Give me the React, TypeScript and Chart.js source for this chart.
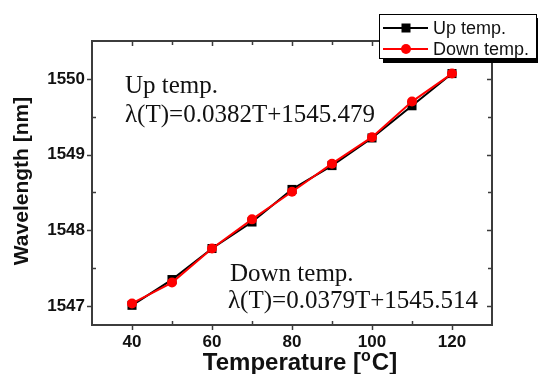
import React, { useEffect, useRef } from "react";
import { Chart, registerables } from "chart.js";

Chart.register(...registerables);

const temperatures = [40, 50, 60, 70, 80, 90, 100, 110, 120];
const upTemp = [1547.01, 1547.35, 1547.76, 1548.11, 1548.54, 1548.855, 1549.22, 1549.645, 1550.07];
const downTemp = [1547.035, 1547.31, 1547.76, 1548.145, 1548.51, 1548.88, 1549.23, 1549.7, 1550.07];
const xTickLabels = [40, 60, 80, 100, 120];
const yTickLabels = [1547, 1548, 1549, 1550];
const xMinorTicks = [40, 50, 60, 70, 80, 90, 100, 110, 120];
const yMinorTicks = [1547, 1547.5, 1548, 1548.5, 1549, 1549.5, 1550];
const seriesNames = ["Up temp.", "Down temp."];
const upEquation = ["Up temp.", "λ(T)=0.0382T+1545.479"];
const downEquation = ["Down temp.", "λ(T)=0.0379T+1545.514"];

const AXIS_COLOR = "#3c3c3c";

const decorPlugin = {
  id: "decor",
  afterDatasetsDraw(chart: any) {
    const ctx = chart.ctx;
    const { left, right, top, bottom } = chart.chartArea;
    const xs = chart.scales.x;
    const ys = chart.scales.y;
    ctx.save();
    // frame
    ctx.strokeStyle = AXIS_COLOR;
    ctx.lineWidth = 2;
    ctx.strokeRect(left, top, right - left, bottom - top);
    ctx.lineWidth = 1.5;
    ctx.beginPath();
    for (const v of xMinorTicks) {
      const px = Math.round(xs.getPixelForValue(v)) + 0.5;
      const major = xTickLabels.includes(v);
      if (major) {
        ctx.moveTo(px, bottom);
        ctx.lineTo(px, bottom + 5);
      } else {
        ctx.moveTo(px, bottom);
        ctx.lineTo(px, bottom - 4);
      }
      ctx.moveTo(px, top);
      ctx.lineTo(px, top + (major ? 5 : 4));
    }
    for (const v of yMinorTicks) {
      const py = Math.round(ys.getPixelForValue(v)) + 0.5;
      const major = yTickLabels.includes(v);
      if (major) {
        ctx.moveTo(left, py);
        ctx.lineTo(left - 5, py);
      } else {
        ctx.moveTo(left, py);
        ctx.lineTo(left + 4, py);
      }
      ctx.moveTo(right, py);
      ctx.lineTo(right - (major ? 5 : 4), py);
    }
    ctx.stroke();

    // annotations
    ctx.fillStyle = "#111";
    ctx.font = '25px "Liberation Serif"';
    ctx.textAlign = "left";
    ctx.textBaseline = "alphabetic";
    ctx.fillText(upEquation[0], 125, 93);
    ctx.fillText(upEquation[1], 125, 122);
    ctx.fillText(downEquation[0], 230, 281);
    ctx.fillText(downEquation[1], 228, 308);

    // axis titles
    ctx.fillStyle = "#111";
    ctx.font = 'bold 21px "Liberation Sans"';
    ctx.save();
    ctx.translate(22, 181);
    ctx.rotate(-Math.PI / 2);
    ctx.textAlign = "center";
    ctx.textBaseline = "middle";
    ctx.fillText("Wavelength [nm]", 0, 0);
    ctx.restore();

    const bigFont = 'bold 24px "Liberation Sans"';
    const supFont = 'bold 16px "Liberation Sans"';
    ctx.font = bigFont;
    const p1 = "Temperature [";
    const p3 = "C]";
    const w1 = ctx.measureText(p1).width;
    const w3 = ctx.measureText(p3).width;
    ctx.font = supFont;
    const w2 = ctx.measureText("o").width + 1;
    const total = w1 + w2 + w3;
    const x0 = 300 - total / 2;
    const base = 370;
    ctx.textAlign = "left";
    ctx.textBaseline = "alphabetic";
    ctx.font = bigFont;
    ctx.fillText(p1, x0, base);
    ctx.font = supFont;
    ctx.fillText("o", x0 + w1, base - 9);
    ctx.font = bigFont;
    ctx.fillText(p3, x0 + w1 + w2, base);

    // legend
    const lx = 379, ly = 14, lw = 158, lh = 45;
    ctx.fillStyle = "#000";
    ctx.fillRect(lx + 4, ly + 4, lw, lh);
    ctx.fillStyle = "#fff";
    ctx.fillRect(lx, ly, lw, lh);
    ctx.strokeStyle = "#000";
    ctx.lineWidth = 1;
    ctx.strokeRect(lx + 0.5, ly + 0.5, lw - 1, lh - 1);
    const rows = [28, 49];
    const colors = ["#000", "#ff0000"];
    for (let i = 0; i < 2; i++) {
      const cy = rows[i];
      ctx.strokeStyle = colors[i];
      ctx.lineWidth = 2;
      ctx.beginPath();
      ctx.moveTo(383, cy);
      ctx.lineTo(428, cy);
      ctx.stroke();
      ctx.fillStyle = colors[i];
      if (i === 0) {
        ctx.fillRect(406 - 4.5, cy - 4.5, 9, 9);
      } else {
        ctx.beginPath();
        ctx.arc(406, cy, 5, 0, Math.PI * 2);
        ctx.fill();
      }
      ctx.fillStyle = "#111";
      ctx.font = '18px "Liberation Sans"';
      ctx.textBaseline = "middle";
      ctx.fillText(seriesNames[i], 433, cy + 1);
    }
    ctx.restore();
  },
};

export default function App() {
  const canvasRef = useRef<HTMLCanvasElement | null>(null);

  useEffect(() => {
    document.body.style.margin = "0";
    const canvas = canvasRef.current;
    if (!canvas) return;
    const chart = new Chart(canvas, {
      type: "line",
      data: {
        datasets: [
          {
            label: seriesNames[0],
            data: temperatures.map((t, i) => ({ x: t, y: upTemp[i] })),
            borderColor: "#000",
            backgroundColor: "#000",
            borderWidth: 2,
            pointStyle: "rect",
            pointRadius: 6.4,
            pointBorderWidth: 0,
            order: 1,
          },
          {
            label: seriesNames[1],
            data: temperatures.map((t, i) => ({ x: t, y: downTemp[i] })),
            borderColor: "#ff0000",
            backgroundColor: "#ff0000",
            borderWidth: 2,
            pointStyle: "circle",
            pointRadius: 5,
            pointBorderWidth: 0,
            order: 0,
          },
        ],
      },
      options: {
        animation: false,
        responsive: false,
        devicePixelRatio: 1,
        layout: { padding: { top: 41, right: 46, left: 0, bottom: 0 } },
        plugins: { legend: { display: false }, tooltip: { enabled: false } },
        scales: {
          x: {
            type: "linear",
            min: 30,
            max: 130,
            grid: { display: false, drawTicks: false },
            border: { display: false },
            ticks: {
              padding: 7,
              color: "#111",
              font: { family: "Liberation Sans", size: 17, weight: "bold" },
              callback: (v: any) => String(v),
            },
            afterBuildTicks: (scale: any) => {
              scale.ticks = xTickLabels.map((v) => ({ value: v }));
            },
            afterFit: (scale: any) => {
              scale.height = 49;
            },
          },
          y: {
            type: "linear",
            min: 1546.75,
            max: 1550.5,
            grid: { display: false, drawTicks: false },
            border: { display: false },
            ticks: {
              padding: 7,
              color: "#111",
              font: { family: "Liberation Sans", size: 17, weight: "bold" },
              callback: (v: any) => String(v),
            },
            afterBuildTicks: (scale: any) => {
              scale.ticks = yTickLabels.map((v) => ({ value: v }));
            },
            afterFit: (scale: any) => {
              scale.width = 92;
            },
          },
        },
      },
      plugins: [decorPlugin],
    } as any);
    return () => chart.destroy();
  }, []);

  return (
    <div style={{ position: "absolute", left: 0, top: 0, width: 538, height: 374, background: "#fff" }}>
      <canvas ref={canvasRef} width={538} height={374} style={{ width: 538, height: 374 }} />
    </div>
  );
}
